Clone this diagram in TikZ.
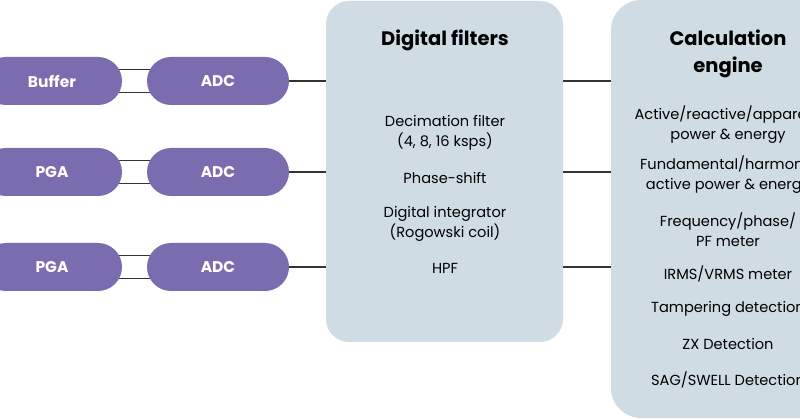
\documentclass[tikz,border=0pt]{standalone}
\usepackage{fontspec}
\setmainfont{Poppins}
\usetikzlibrary{backgrounds}
\definecolor{pillc}{HTML}{7A6CAE}
\definecolor{boxc}{HTML}{D0DCE4}
\definecolor{linec}{HTML}{333333}
\begin{document}
\begin{tikzpicture}[x=1pt,y=-1pt,
  pill/.style={rectangle,rounded corners=24pt,fill=pillc,minimum height=48pt,text=white,font=\fontsize{15.5}{18}\selectfont\bfseries,inner sep=0pt},
  panel/.style={rectangle,fill=boxc,inner sep=0pt},
  body/.style={font=\fontsize{14.6}{20}\selectfont,align=center,text=black,inner sep=0pt},
  title/.style={font=\fontsize{19.5}{27}\selectfont\bfseries,align=center,text=black,inner sep=0pt},
  conn/.style={draw=linec,line width=1.2pt}]
\useasboundingbox (0,0) rectangle (800,419);
\clip (0,0) rectangle (800,419);
% panels
\node[panel,rounded corners=23pt,minimum width=237pt,minimum height=341pt] (filt) at (444.5,171.5) {};
\node[panel,rounded corners=30pt,minimum width=240pt,minimum height=418pt] (calc) at (731,209) {};
% pills
\node[pill,minimum width=140pt] (buf) at (52,81) {Buffer};
\node[pill,minimum width=142pt] (adc1) at (218,81) {ADC};
\node[pill,minimum width=140pt] (pga1) at (52,172) {PGA};
\node[pill,minimum width=142pt] (adc2) at (218,172) {ADC};
\node[pill,minimum width=140pt] (pga2) at (52,267) {PGA};
\node[pill,minimum width=142pt] (adc3) at (218,267) {ADC};
\begin{scope}[on background layer]
\foreach \a/\b in {buf/adc1,pga1/adc2,pga2/adc3}{
  \draw[conn] ([yshift=-11.5pt]\a.center) -- ([yshift=-11.5pt]\b.center);
  \draw[conn] ([yshift=11.5pt]\a.center) -- ([yshift=11.5pt]\b.center);
}
\end{scope}
\foreach \a in {adc1,adc2,adc3}{
  \draw[conn] (\a.east) -- (\a -| filt.west);
  \draw[conn] (\a -| filt.east) -- (\a -| calc.west);
}
% filter texts
\node[title] (ftitle) at (445,40) {Digital filters};
\node[body] (f1) at (445,133) {Decimation filter\\(4, 8, 16 ksps)};
\node[body] (f2) at (445,178) {Phase-shift};
\node[body] (f3) at (445,223.5) {Digital integrator\\(Rogowski coil)};
\node[body] (f4) at (445,268) {HPF};
% calc texts
\node[title] (ctitle) at (728,53.5) {Calculation\\engine};
\node[body] (c1) at (728,124.5) {Active/reactive/apparent\\power \& energy};
\node[body] (c2) at (728,175) {Fundamental/harmonic\\active power \& energy};
\node[body] (c3) at (728,230) {Frequency/phase/\\PF meter};
\node[body] (c4) at (728,274) {IRMS/VRMS meter};
\node[body] (c5) at (728,309) {Tampering detection};
\node[body] (c6) at (728,344) {ZX Detection};
\node[body] (c7) at (728,380) {SAG/SWELL Detection};
\end{tikzpicture}
\end{document}
